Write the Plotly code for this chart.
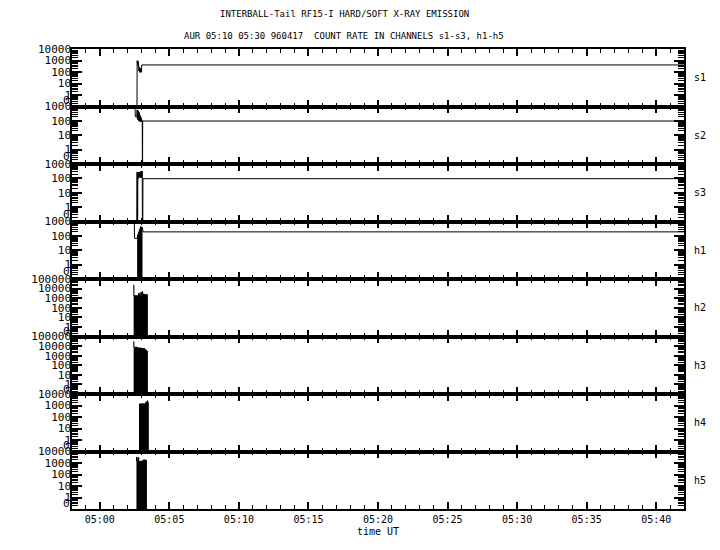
import datetime as dt
import plotly.graph_objects as go
from plotly.subplots import make_subplots

# ---------------------------------------------------------------- data
# time: seconds after 05:00:00 UT, 1996-04-17 ; value: count rate (0 = no counts)
T0 = dt.datetime(1996, 4, 17, 5, 0, 0)
X_START = "1996-04-17 04:58:00"
X_END = "1996-04-17 05:42:00"

channels = ["s1", "s2", "s3", "h1", "h2", "h3", "h4", "h5"]
top_decades = [4, 3, 3, 3, 5, 5, 4, 4]      # panel top = 10^n
bottom_decade = -1
zero_label_decade = -0.5                      # where the "0" label sits

s1_t = [160, 161, 162, 163, 164, 165, 166, 167, 168, 169, 170, 171, 172, 173,
        174, 175, 176, 177, 178, 179, 180, 181, 2600]
s1_v = [0, 970, 420, 950, 380, 900, 330, 850, 300, 120, 280, 95, 250, 100,
        220, 95, 200, 100, 180, 95, 130, 410, 410]

s2_t = [152, 153, 160, 161, 162, 163, 164, 165, 166, 167, 168, 169, 170, 171,
        172, 173, 174, 175, 176, 177, 178, 179, 180, 181, 183, 184, 185, 2600]
s2_v = [770, 195, 195, 590, 150, 560, 120, 500, 200, 450, 100, 400, 150, 300,
        90, 250, 120, 200, 87, 180, 100, 150, 90, 120, 98, 0, 98, 98]

s3_t = [159, 160, 161, 162, 163, 164, 165, 166, 167, 168, 169, 170, 171, 172,
        173, 174, 175, 176, 177, 178, 179, 180, 181, 182, 183, 184, 185, 186, 2600]
s3_v = [0, 275, 0, 260, 0, 275, 110, 270, 100, 275, 190, 275, 120, 270,
        150, 275, 110, 300, 130, 325, 120, 325, 110, 325, 325, 0, 0, 95, 95]

h1_t = [149, 150, 161, 175, 176, 177, 178, 179, 180, 181, 182, 183, 184, 185, 186, 2600]
h1_v = [690, 67, 67, 300, 440, 260, 440, 280, 420, 270, 400, 300, 380, 280, 190, 190]

# dense (filled) parts of the record
h1_fill_t = [161, 169, 175, 182]
h1_fill_v = [115, 200, 300, 0]

h2_fill_t = [146, 147, 167, 171, 177, 180, 183, 185, 195, 205]
h2_fill_v = [23700, 1800, 3200, 1900, 4100, 1900, 4700, 2500, 2300, 0]

h3_fill_t = [146, 147, 163, 179, 194, 201, 205]
h3_fill_v = [29500, 7500, 6300, 5500, 4000, 3000, 0]

h4_fill_t = [169, 180, 190, 198, 204, 206, 209]
h4_fill_v = [1350, 1400, 1350, 1870, 2600, 1900, 0]

h5_fill_t = [158, 159, 160, 161, 167, 168, 186, 201]
h5_fill_v = [3200, 1500, 3000, 1500, 3000, 1400, 1800, 0]

lines = {"s1": (s1_t, s1_v), "s2": (s2_t, s2_v), "s3": (s3_t, s3_v), "h1": (h1_t, h1_v)}
fills = {"h1": (h1_fill_t, h1_fill_v), "h2": (h2_fill_t, h2_fill_v),
         "h3": (h3_fill_t, h3_fill_v), "h4": (h4_fill_t, h4_fill_v),
         "h5": (h5_fill_t, h5_fill_v)}

title_1 = "INTERBALL-Tail RF15-I HARD/SOFT X-RAY EMISSION"
title_2 = "AUR 05:10 05:30 960417  COUNT RATE IN CHANNELS s1-s3, h1-h5"
x_title = "time UT"

# ---------------------------------------------------------------- helpers
ZERO = 1e-3   # zero counts drawn below the axis floor (clipped)
MONO = "DejaVu Sans Mono"


def times(ts):
    return [T0 + dt.timedelta(seconds=s) for s in ts]


def vals(vs):
    return [v if v > 0 else ZERO for v in vs]


fig = make_subplots(rows=8, cols=1, shared_xaxes=True, vertical_spacing=0)

for i, ch in enumerate(channels):
    row = i + 1
    if ch in fills:
        ft, fv = fills[ch]
        fig.add_trace(go.Scatter(x=times(ft), y=vals(fv), mode="lines",
                                 line=dict(color="black", width=1, shape="hv"),
                                 fill="tozeroy", fillcolor="black",
                                 hoverinfo="skip"), row=row, col=1)
    if ch in lines:
        lt, lv = lines[ch]
        fig.add_trace(go.Scatter(x=times(lt), y=vals(lv), mode="lines",
                                 line=dict(color="black", width=1),
                                 hoverinfo="skip"), row=row, col=1)

    top = top_decades[i]
    tv = [10 ** k for k in range(0, top + 1)]
    fig.update_yaxes(type="log", range=[bottom_decade, top],
                     tickmode="array", tickvals=tv, ticktext=[str(v) for v in tv],
                     ticks="inside", ticklen=10, tickwidth=1.5, tickcolor="black",
                     minor=dict(ticks="inside", ticklen=6, dtick="D1",
                                tickwidth=1, tickcolor="black", showgrid=False),
                     showgrid=False, zeroline=False, showline=True, linecolor="black",
                     linewidth=1.5, mirror="allticks", automargin=False,
                     ticklabelstandoff=-3,
                     tickfont=dict(family=MONO, size=11, color="black"),
                     row=row, col=1)
    fig.update_xaxes(type="date", range=[X_START, X_END],
                     tick0="1996-04-17 05:00:00", dtick=300000, tickformat="%H:%M",
                     ticks="inside", ticklen=7, tickwidth=1.5, tickcolor="black",
                     minor=dict(ticks="inside", ticklen=4, dtick=60000,
                                tick0="1996-04-17 05:00:00",
                                tickwidth=1, tickcolor="black", showgrid=False),
                     showgrid=False, zeroline=False, showline=True, linecolor="black",
                     linewidth=1.5, mirror="allticks", automargin=False,
                     tickfont=dict(family=MONO, size=10, color="black"),
                     row=row, col=1)

    yname = "y" if row == 1 else f"y{row}"
    # panel name on the right
    fig.add_annotation(text=ch, xref="paper", x=1, xshift=16, xanchor="center",
                       yref=f"{yname} domain", y=0.5, yanchor="middle",
                       showarrow=False, font=dict(family=MONO, size=10, color="black"))
    # "0" label
    fig.add_annotation(text="0", xref="paper", x=0, xshift=0, xanchor="right",
                       yref=yname, y=zero_label_decade, yanchor="middle",
                       showarrow=False, font=dict(family=MONO, size=11, color="black"))

fig.add_annotation(text=title_1, xref="paper", x=0.445, xanchor="center",
                   yref="paper", y=1, yshift=35, yanchor="middle", showarrow=False,
                   font=dict(family=MONO, size=9, color="black"))
fig.add_annotation(text=title_2, xref="paper", x=0.445, xanchor="center",
                   yref="paper", y=1, yshift=13, yanchor="middle", showarrow=False,
                   font=dict(family=MONO, size=9, color="black"))
fig.add_annotation(text=x_title, xref="paper", x=0.5, xanchor="center",
                   yref="paper", y=0, yshift=-22, yanchor="middle", showarrow=False,
                   font=dict(family=MONO, size=10, color="black"))

fig.update_layout(width=720, height=550, showlegend=False,
                  margin=dict(l=72, r=36, t=49, b=41),
                  paper_bgcolor="white", plot_bgcolor="white")

fig.write_html("out.html", config={"displayModeBar": False},
               post_script="document.body.style.margin='0px';")
